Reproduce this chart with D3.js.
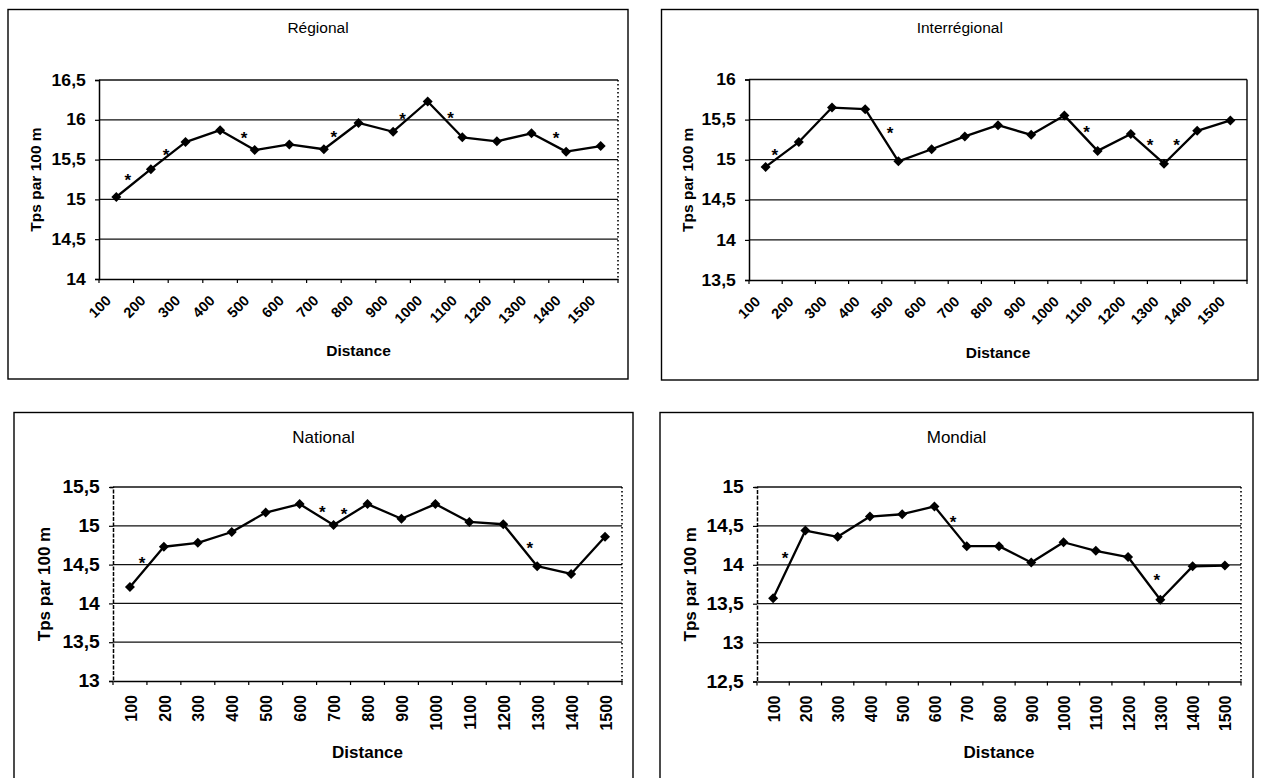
<!DOCTYPE html>
<html>
<head>
<meta charset="utf-8">
<script src="https://cdn.jsdelivr.net/npm/d3@7"></script>
<style>
  body { margin: 0; background: #fff; }
  svg { display: block; }
  text { font-family: "Liberation Sans", Arial, sans-serif; fill: #000; }
</style>
</head>
<body>
<div id="chart"></div>
<script>
// ---- data ----
const distances = [100, 200, 300, 400, 500, 600, 700, 800, 900, 1000, 1100, 1200, 1300, 1400, 1500];

const regionalTimes      = [15.03, 15.38, 15.72, 15.87, 15.62, 15.69, 15.63, 15.96, 15.85, 16.23, 15.78, 15.73, 15.83, 15.60, 15.67];
const interregionalTimes = [14.91, 15.22, 15.65, 15.63, 14.98, 15.13, 15.29, 15.43, 15.31, 15.55, 15.11, 15.32, 14.95, 15.36, 15.49];
const nationalTimes      = [14.21, 14.73, 14.78, 14.92, 15.17, 15.28, 15.01, 15.28, 15.09, 15.28, 15.05, 15.02, 14.48, 14.38, 14.86];
const mondialTimes       = [13.57, 14.44, 14.36, 14.62, 14.65, 14.75, 14.24, 14.24, 14.03, 14.29, 14.18, 14.10, 13.55, 13.98, 13.99];

const regionalTicks      = [14, 14.5, 15, 15.5, 16, 16.5];
const interregionalTicks = [13.5, 14, 14.5, 15, 15.5, 16];
const nationalTicks      = [13, 13.5, 14, 14.5, 15, 15.5];
const mondialTicks       = [12.5, 13, 13.5, 14, 14.5, 15];

// significance stars: [distance position, time]
const regionalStars      = [[133, 15.28], [244, 15.60], [469, 15.81], [729, 15.82], [927, 16.05], [1066, 16.06], [1371, 15.81]];
const interregionalStars = [[128, 15.10], [475, 15.38], [1067, 15.39], [1258, 15.23], [1338, 15.23]];
const nationalStars      = [[136, 14.56], [667, 15.22], [731, 15.20], [1278, 14.76]];
const mondialStars       = [[137, 14.13], [658, 14.59], [1289, 13.85]];

const yTitle = "Tps par 100 m";
const xTitle = "Distance";

// ---- layout ----
const width = 1264, height = 778;

const panels = [
    {title: "Régional", times: regionalTimes, ticks: regionalTicks, stars: regionalStars,
     frame: [8, 9.5, 628, 379], plot: [99, 80, 618, 279], titleY: 33, yTitleX: 36, xTitleY: 356,
     rot: 45, dottedRight: true, dashedLeft: false,
     fTitle: 15.5, fYTick: 16, fXTick: 14.5, fAxis: 15.5, fStar: 17},
    {title: "Interrégional", times: interregionalTimes, ticks: interregionalTicks, stars: interregionalStars,
     frame: [661.5, 9.5, 1258, 380], plot: [749, 79.5, 1247, 280], titleY: 33, yTitleX: 688, xTitleY: 358,
     rot: 45, dottedRight: false, dashedLeft: false,
     fTitle: 15.5, fYTick: 16, fXTick: 14.5, fAxis: 15.5, fStar: 17},
    {title: "National", times: nationalTimes, ticks: nationalTicks, stars: nationalStars,
     frame: [14, 412.5, 633, 800], plot: [113, 487, 622, 681], titleY: 443, yTitleX: 44, xTitleY: 758,
     rot: 90, dottedRight: true, dashedLeft: true,
     fTitle: 17, fYTick: 17.5, fXTick: 16, fAxis: 17, fStar: 17},
    {title: "Mondial", times: mondialTimes, ticks: mondialTicks, stars: mondialStars,
     frame: [660, 412.5, 1253, 800], plot: [757, 487, 1241, 681.5], titleY: 443, yTitleX: 690, xTitleY: 758,
     rot: 90, dottedRight: true, dashedLeft: true,
     fTitle: 17, fYTick: 17.5, fXTick: 16, fAxis: 17, fStar: 17}
];

const svg = d3.select("#chart").append("svg")
    .attr("width", width)
    .attr("height", height);

svg.append("rect").attr("width", width).attr("height", height).attr("fill", "#fff");

const commaFormat = d => String(d).replace(".", ",");

function drawPanel(p) {
    const [fx0, fy0, fx1, fy1] = p.frame;
    const [left, top, right, bottom] = p.plot;
    const g = svg.append("g");

    // outer frame
    g.append("rect")
        .attr("x", fx0).attr("y", fy0)
        .attr("width", fx1 - fx0).attr("height", fy1 - fy0)
        .attr("fill", "none").attr("stroke", "#000").attr("stroke-width", 1.4);

    g.append("text")
        .attr("x", (fx0 + fx1) / 2).attr("y", p.titleY)
        .attr("text-anchor", "middle")
        .style("font-size", p.fTitle + "px")
        .text(p.title);

    const x = d3.scaleBand().domain(distances).range([left, right]);
    const xPos = d3.scaleLinear()
        .domain([distances[0], distances[distances.length - 1]])
        .range([x(distances[0]) + x.bandwidth() / 2, x(distances[distances.length - 1]) + x.bandwidth() / 2]);
    const y = d3.scaleLinear().domain(d3.extent(p.ticks)).range([bottom, top]);

    // gridlines
    g.append("g").selectAll("line")
        .data(p.ticks.slice(1))
        .join("line")
        .attr("x1", left).attr("x2", right)
        .attr("y1", d => y(d)).attr("y2", d => y(d))
        .attr("stroke", "#111").attr("stroke-width", 1.3);

    // right border of plot area
    g.append("line")
        .attr("x1", right).attr("x2", right).attr("y1", top).attr("y2", bottom)
        .attr("stroke", "#000").attr("stroke-width", p.dottedRight ? 1.6 : 1.4)
        .attr("stroke-dasharray", p.dottedRight ? "1.6,2.4" : null);

    // y axis
    const yAxis = g.append("g")
        .attr("transform", `translate(${left},0)`)
        .call(d3.axisLeft(y).tickValues(p.ticks).tickSize(4).tickPadding(8).tickFormat(commaFormat));
    yAxis.select(".domain").attr("stroke-width", 1.5)
        .attr("stroke-dasharray", p.dashedLeft ? "4,1.5" : null);
    yAxis.selectAll(".tick line").attr("stroke-width", 1.2);
    yAxis.selectAll("text")
        .attr("transform", "scale(1.1,1)")
        .style("font-size", p.fYTick + "px").style("font-weight", "bold")
        .style("font-family", '"Liberation Sans", Arial, sans-serif');

    // x axis: labels at band centres, ticks at band boundaries
    const xAxis = g.append("g")
        .attr("transform", `translate(0,${bottom})`)
        .call(d3.axisBottom(x).tickSize(0).tickFormat(d => d));
    xAxis.select(".domain").attr("stroke-width", 1.6);
    const labels = xAxis.selectAll("text")
        .attr("x", 0).attr("y", 0)
        .attr("dy", ".35em")
        .attr("text-anchor", "end")
        .style("font-size", p.fXTick + "px").style("font-weight", "bold")
        .style("font-family", '"Liberation Sans", Arial, sans-serif');
    if (p.rot === 45) {
        labels.attr("transform", "translate(-8,19) rotate(-45)");
    } else {
        labels.attr("transform", "translate(1,14) rotate(-90)");
    }

    const bounds = distances.map(d => x(d)).concat([x(distances[distances.length - 1]) + x.bandwidth()]);
    g.append("g").selectAll("line")
        .data(bounds)
        .join("line")
        .attr("x1", d => d).attr("x2", d => d)
        .attr("y1", bottom).attr("y2", bottom + 4)
        .attr("stroke", "#000").attr("stroke-width", 1.2);

    // axis titles
    g.append("text")
        .attr("transform", `translate(${p.yTitleX},${(top + bottom) / 2}) rotate(-90)`)
        .attr("text-anchor", "middle")
        .attr("dy", ".35em")
        .style("font-size", p.fAxis + "px").style("font-weight", "bold")
        .text(yTitle);

    g.append("text")
        .attr("x", (left + right) / 2).attr("y", p.xTitleY)
        .attr("text-anchor", "middle")
        .style("font-size", p.fAxis + "px").style("font-weight", "bold")
        .text(xTitle);

    // series line
    const series = distances.map((d, i) => ({d: d, v: p.times[i]}));
    const line = d3.line()
        .x(d => x(d.d) + x.bandwidth() / 2)
        .y(d => y(d.v));

    g.append("path")
        .datum(series)
        .attr("d", line)
        .attr("fill", "none")
        .attr("stroke", "#000")
        .attr("stroke-width", 2.3)
        .attr("stroke-linejoin", "round");

    // diamond markers
    const diamond = d3.symbol().type(d3.symbolSquare).size(50);
    g.append("g").selectAll("path")
        .data(series)
        .join("path")
        .attr("d", diamond)
        .attr("transform", d => `translate(${x(d.d) + x.bandwidth() / 2},${y(d.v)}) rotate(45)`)
        .attr("fill", "#000");

    // stars
    g.append("g").selectAll("text")
        .data(p.stars)
        .join("text")
        .attr("x", d => xPos(d[0]))
        .attr("y", d => y(d[1]))
        .attr("dy", ".55em")
        .attr("text-anchor", "middle")
        .style("font-size", p.fStar + "px").style("font-weight", "bold")
        .text("*");
}

panels.forEach(drawPanel);
</script>
</body>
</html>
